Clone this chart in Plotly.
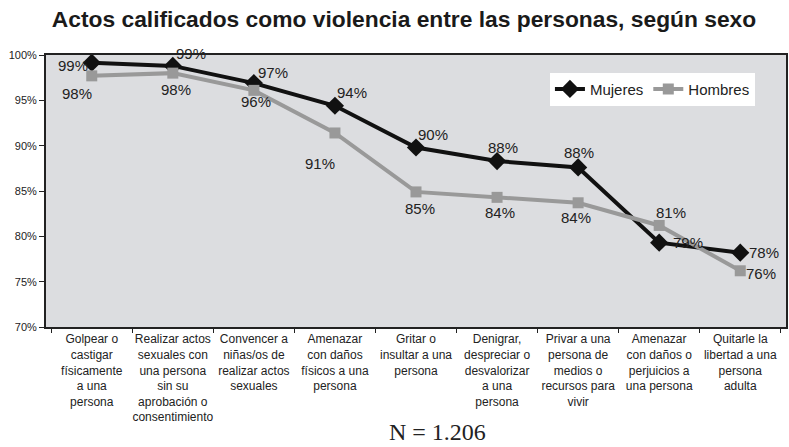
import plotly.graph_objects as go

categories = [
    "Golpear o<br>castigar<br>físicamente<br>a una<br>persona",
    "Realizar actos<br>sexuales con<br>una persona<br>sin su<br>aprobación o<br>consentimiento",
    "Convencer a<br>niñas/os de<br>realizar actos<br>sexuales",
    "Amenazar<br>con daños<br>físicos a una<br>persona",
    "Gritar o<br>insultar a una<br>persona",
    "Denigrar,<br>despreciar o<br>desvalorizar<br>a una<br>persona",
    "Privar a una<br>persona de<br>medios o<br>recursos para<br>vivir",
    "Amenazar<br>con daños o<br>perjuicios a<br>una persona",
    "Quitarle la<br>libertad a una<br>persona<br>adulta",
]
mujeres = [99.15, 98.8, 96.9, 94.4, 89.8, 88.3, 87.6, 79.3, 78.2]
hombres = [97.7, 98.0, 96.1, 91.4, 84.9, 84.3, 83.7, 81.2, 76.2]
mujeres_labels = ["99%", "99%", "97%", "94%", "90%", "88%", "88%", "79%", "78%"]
hombres_labels = ["98%", "98%", "96%", "91%", "85%", "84%", "84%", "81%", "76%"]

# label offsets (pixels) relative to markers
m_dx = [-19, 18, 19, 17, 17, 6, 1, 29, 24]
m_dy = [-3, 12, 11, 13, 13, 14, 15, 0, 0]
h_dx = [-15, 3, 2, -15, 4, 3, -2, 12, 21]
h_dy = [-18, -16, -11, -31, -17, -15, -15, 13, -3]

FONT = "Liberation Sans, Arial, sans-serif"

fig = go.Figure()
fig.add_trace(go.Scatter(
    x=categories, y=mujeres, name="Mujeres", mode="lines+markers",
    line=dict(color="#111111", width=4),
    marker=dict(symbol="diamond", size=14, color="#111111"),
))
fig.add_trace(go.Scatter(
    x=categories, y=hombres, name="Hombres", mode="lines+markers",
    line=dict(color="#999999", width=4),
    marker=dict(symbol="square", size=11, color="#999999"),
))

annotations = []
for c, v, t, dx, dy in zip(categories, mujeres, mujeres_labels, m_dx, m_dy):
    annotations.append(dict(x=c, y=v, text=t, showarrow=False, xshift=dx, yshift=dy,
                            font=dict(family=FONT, size=15, color="#222222")))
for c, v, t, dx, dy in zip(categories, hombres, hombres_labels, h_dx, h_dy):
    annotations.append(dict(x=c, y=v, text=t, showarrow=False, xshift=dx, yshift=dy,
                            font=dict(family=FONT, size=15, color="#222222")))
annotations.append(dict(xref="paper", yref="paper", x=(437 - 46) / 740, y=-0.385,
                        text="N = 1.206", showarrow=False, xanchor="center", yanchor="middle",
                        font=dict(family="Liberation Serif, Times New Roman, serif", size=24, color="#222222")))

fig.update_layout(
    width=789, height=447,
    margin=dict(l=46, r=3, t=55, b=120, autoexpand=False),
    paper_bgcolor="white",
    plot_bgcolor="#dcdde0",
    font=dict(family=FONT, color="#222222"),
    title=dict(text="<b>Actos calificados como violencia entre las personas, según sexo</b>",
               x=404 / 789, xanchor="center", y=1 - 19 / 447, yanchor="middle",
               font=dict(size=22.8, color="#1a1a1a", family=FONT)),
    showlegend=True,
    legend=dict(orientation="h", x=0.681, y=0.935, xanchor="left", yanchor="top",
                bgcolor="white", font=dict(size=15, color="#222222"),
                itemwidth=30, tracegroupgap=0),
    annotations=annotations,
)
fig.update_xaxes(
    showline=True, linecolor="#222222", linewidth=2, mirror=True,
    ticks="outside", tickson="boundaries", ticklen=4, tickcolor="#222222",
    tickfont=dict(size=12, color="#222222", family=FONT), showgrid=False,
    tickangle=0, automargin=False,
)
fig.update_yaxes(
    range=[70, 100], dtick=5, ticksuffix="%",
    showline=True, linecolor="#222222", linewidth=2, mirror=True,
    ticks="outside", ticklen=5, tickcolor="#222222",
    tickfont=dict(size=11, color="#222222", family=FONT), showgrid=False, zeroline=False,
    automargin=False,
)

fig.write_html(
    "out.html",
    config={"displayModeBar": False},
    post_script="document.body.style.margin='0';document.body.style.overflow='hidden';",
)
